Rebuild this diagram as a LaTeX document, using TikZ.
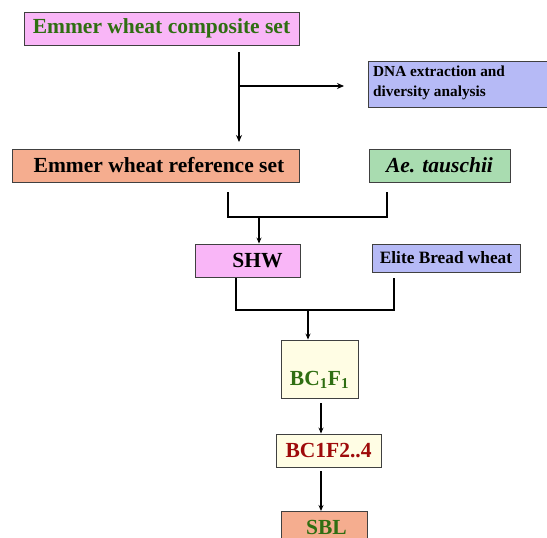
\documentclass[tikz,border=0pt]{standalone}
\usepackage{fontspec}
\setmainfont{Liberation Serif}
\usetikzlibrary{arrows.meta}
\definecolor{pinkbox}{HTML}{F9B6F7}
\definecolor{bluebox}{HTML}{B6BAF6}
\definecolor{salmon}{HTML}{F5AD8F}
\definecolor{greenbox}{HTML}{A9DCB0}
\definecolor{cream}{HTML}{FFFDE4}
\definecolor{dgreen}{HTML}{2F6E12}
\definecolor{dred}{HTML}{9E0A0A}
\definecolor{edge}{HTML}{404040}
\tikzset{
  box/.style={draw=edge, line width=0.9pt, inner sep=0pt},
  big/.style={font=\bfseries\fontsize{21.5}{24}\selectfont},
  conn/.style={line width=1.8pt},
  brk/.style={line width=2.8pt},
  arr/.style={line width=1.2pt, -{Stealth[length=6pt,width=5pt]}},
}
\begin{document}
\begin{tikzpicture}[x=1pt,y=-1pt]
\useasboundingbox (0,0) rectangle (547,538);
\node[box, big, fill=pinkbox, minimum width=275pt, minimum height=33pt, text=dgreen] (comp) at (161.5,28.5) {Emmer wheat composite set\hspace{5pt}};
\node[box, fill=bluebox, minimum width=200pt, minimum height=46pt, anchor=north west] (dna) at (368,61) {};
\node[anchor=north west, align=left, inner sep=0pt, font=\bfseries\fontsize{15.3}{20}\selectfont] (dnat) at (373,66) {DNA extraction and\\diversity analysis};
\node[box, big, fill=salmon, minimum width=287pt, minimum height=33pt] (ref) at (155.5,165.5) {\hspace{7pt}Emmer wheat reference set};
\node[box, fill=greenbox, minimum width=141pt, minimum height=33pt, font=\bfseries\itshape\fontsize{21.5}{24}\selectfont] (ae) at (439.5,165.5) {Ae. tauschii\hspace{13pt}};
\node[box, big, fill=pinkbox, minimum width=105pt, minimum height=33pt] (shw) at (247.5,260.5) {\hspace{20pt}SHW};
\node[box, fill=bluebox, minimum width=148pt, minimum height=28pt, font=\bfseries\fontsize{17.3}{20}\selectfont] (elite) at (446,258) {Elite Bread wheat};
\node[box, fill=cream, minimum width=77pt, minimum height=58pt] (bcf) at (319.5,369) {};
\node[inner sep=0pt, text=dgreen, big] (bcft) at (319.5,380) {BC$_\mathbf{1}$F$_\mathbf{1}$};
\node[box, big, fill=cream, minimum width=105pt, minimum height=33pt, text=dred] (bc2) at (328.5,450.5) {BC1F2..4};
\node[box, fill=salmon, minimum width=86pt, minimum height=36pt, anchor=north] (sbl) at (324,511) {};
\node[inner sep=0pt, text=dgreen, big] (sblt) at (326.5,527) {SBL};
% connectors
\coordinate (c1) at (239,52);
\coordinate (c2) at (239,86);
\coordinate (c3) at (239,142);
\coordinate (d1) at (344,86);
\draw[conn] (c1) -- (c2);
\draw[conn, -{Stealth[length=7pt,width=6pt]}] (c2) -- (c3);
\draw[conn, -{Stealth[length=7pt,width=6pt]}] (c2) -- (d1);
\coordinate (b1a) at (228,192);
\coordinate (b1b) at (387,192);
\coordinate (b1m) at (259,217);
\draw[brk] (b1a) |- (b1m) -| (b1b);
\draw[arr] (b1m) -- (b1m |- shw.north);
\coordinate (b2a) at (236,278);
\coordinate (b2b) at (394,278);
\coordinate (b2m) at (308,310);
\draw[brk] (b2a) |- (b2m) -| (b2b);
\draw[arr] (b2m) -- (b2m |- bcf.north);
\coordinate (a3) at (321,403);
\draw[arr] (a3) -- (a3 |- bc2.north);
\coordinate (a4) at (321,471);
\draw[arr] (a4) -- (a4 |- sbl.north);
\end{tikzpicture}
\end{document}
